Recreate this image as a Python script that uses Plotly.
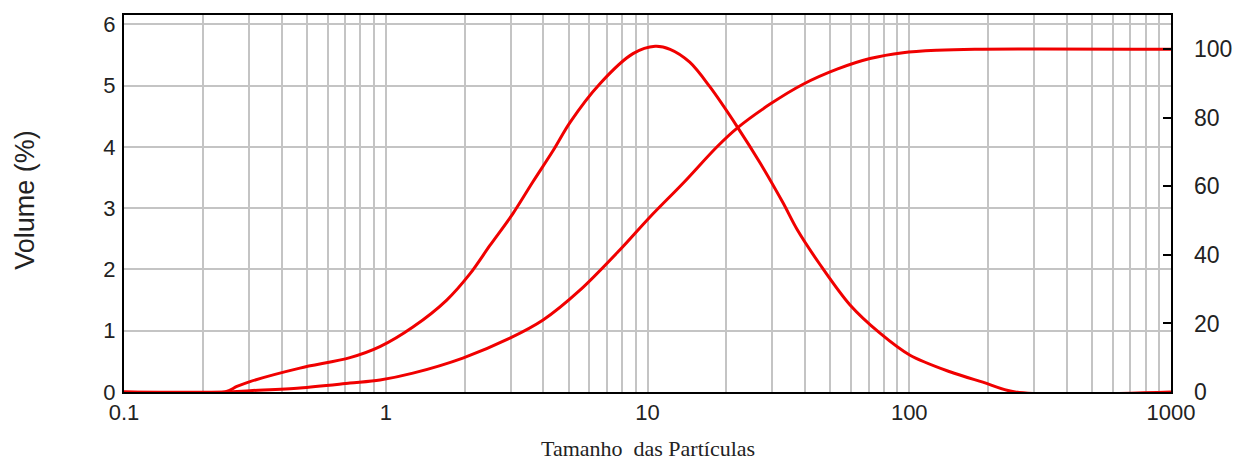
import plotly.graph_objects as go

# Particle size (x) and frequency volume (%) - left axis
size_freq = [0.1, 0.243, 0.27, 0.303, 0.47, 0.73, 0.95, 1.27, 1.71, 2.10, 2.50, 3.06, 3.65,
             4.36, 5.06, 6.58, 8.80, 10.7, 12.2, 14.5, 17.3, 22.0, 26.9, 32.9, 37.3, 45.6,
             59.4, 77.3, 100.7, 143, 191, 254, 1000]
vol_freq = [0, 0, 0.09, 0.17, 0.39, 0.56, 0.74, 1.06, 1.50, 1.93, 2.39, 2.91, 3.43,
            3.94, 4.40, 5.03, 5.52, 5.64, 5.59, 5.38, 4.98, 4.33, 3.74, 3.09, 2.65, 2.08,
            1.42, 0.96, 0.60, 0.33, 0.16, 0, 0]

# Cumulative volume (%) - right axis
size_cum = [0.1, 0.243, 0.303, 0.47, 0.73, 0.951, 1.27, 1.97, 2.98, 3.99, 5.52, 7.85, 10.2,
            13.7, 18.4, 22.0, 29.4, 39.3, 53.0, 70.8, 94.6, 127.6, 178, 1000]
vol_cum = [0, 0, 0.4, 1.2, 2.6, 3.5, 5.5, 9.9, 15.7, 21, 29.7, 41.5, 51,
           61, 71.5, 77, 84, 89.8, 94.2, 97.3, 99, 99.7, 100, 100]

decades = [0.1, 1, 10, 100]
x_tickvals = [d * k for d in decades for k in range(1, 10)] + [1000]
x_major = ["0.1", "1", "10", "100", "1000"]
x_ticktext = []
for v in x_tickvals:
    lbl = ""
    for m in x_major:
        if abs(v - float(m)) < 1e-9:
            lbl = m
    x_ticktext.append(lbl)

y_left_ticks = [0, 1, 2, 3, 4, 5, 6]
y_right_ticks = [0, 20, 40, 60, 80, 100]

RED = "#f00000"
FONT = "Liberation Sans, Arial, sans-serif"
TXT = "#222222"
GRID = "#c4c4c4"

fig = go.Figure()
fig.add_trace(go.Scatter(x=size_freq, y=vol_freq, mode="lines",
                         line=dict(color=RED, width=3, shape="spline", smoothing=0.9),
                         showlegend=False, hoverinfo="skip"))
fig.add_trace(go.Scatter(x=size_cum, y=vol_cum, mode="lines", yaxis="y2",
                         line=dict(color=RED, width=3, shape="spline", smoothing=0.9),
                         showlegend=False, hoverinfo="skip"))

fig.update_layout(
    width=1236, height=462,
    margin=dict(l=124, r=65, t=15, b=70),
    paper_bgcolor="white", plot_bgcolor="white",
    font=dict(family=FONT, size=22, color=TXT),
    xaxis=dict(type="log", range=[-1, 3], tickvals=x_tickvals, ticktext=x_ticktext,
               showgrid=True, gridcolor=GRID, gridwidth=2, automargin=False,
               showline=True, linecolor="black", linewidth=2, mirror=True,
               ticks="", ticklabelstandoff=0, zeroline=False, layer="below traces"),
    yaxis=dict(range=[0, 6.15], tickvals=y_left_ticks, automargin=False,
               showgrid=True, gridcolor=GRID, gridwidth=2,
               showline=True, linecolor="black", linewidth=2, mirror=True,
               ticks="", ticklabelstandoff=2, zeroline=False, layer="below traces"),
    yaxis2=dict(range=[0, 110], tickvals=y_right_ticks, overlaying="y", side="right",
                showgrid=False, showline=False, zeroline=False, automargin=False,
                ticks="inside", ticklen=8, tickwidth=2, tickcolor="black",
                ticklabelstandoff=22, tickfont=dict(size=23)),
    annotations=[
        dict(text="Volume (%)", xref="paper", yref="paper", x=-0.0946, y=0.51,
             xanchor="center", yanchor="middle", textangle=-90, showarrow=False,
             font=dict(family=FONT, size=27, color=TXT)),
        dict(text="Tamanho\u00a0 das Partículas", xref="paper", yref="paper", x=0.5, y=-0.15,
             xanchor="center", yanchor="middle", showarrow=False,
             font=dict(family="Liberation Serif, Times New Roman, serif", size=22, color=TXT)),
    ],
)

fig.write_html("out.html")
